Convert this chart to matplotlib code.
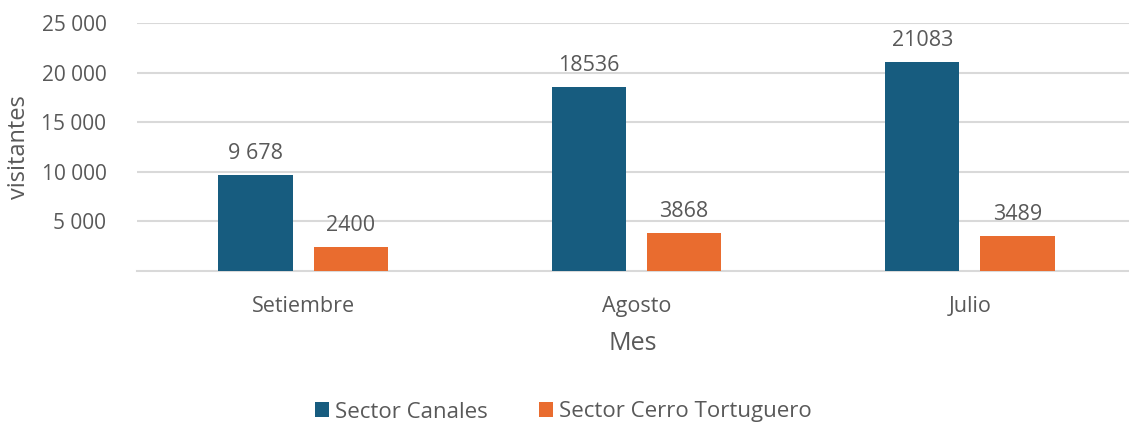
import matplotlib
matplotlib.use("Agg")
import matplotlib.pyplot as plt
import numpy as np
from matplotlib.ticker import FixedLocator

plt.rcParams['font.family'] = ['Open Sans', 'DejaVu Sans']

months = ["Setiembre", "Agosto", "Julio"]
canales = [9678, 18536, 21083]
cerro = [2400, 3868, 3489]
canales_labels = ["9 678", "18536", "21083"]
cerro_labels = ["2400", "3868", "3489"]
yticks = [5000, 10000, 15000, 20000, 25000]
ytick_labels = ["5 000", "10 000", "15 000", "20 000", "25 000"]

blue = "#175C7F"
orange = "#E96C2F"
txt = "#595959"

fig = plt.figure(figsize=(11.29, 4.25), dpi=100)
ax = fig.add_axes([137/1129, 1-271/425, 1-137/1129, (271-23)/425])

x = np.arange(len(months))
w = 0.222
off = 0.1426
b1 = ax.bar(x - off, canales, w, color=blue, label="Sector Canales", zorder=3)
b2 = ax.bar(x + off, cerro, w, color=orange, label="Sector Cerro Tortuguero", zorder=3)

for rect, lab in zip(b1, canales_labels):
    ax.annotate(lab, (rect.get_x() + rect.get_width()/2, rect.get_height()),
                xytext=(0, 8), textcoords="offset points", ha="center", va="bottom",
                fontsize=15.5, color=txt)
for rect, lab in zip(b2, cerro_labels):
    ax.annotate(lab, (rect.get_x() + rect.get_width()/2, rect.get_height()),
                xytext=(0, 8), textcoords="offset points", ha="center", va="bottom",
                fontsize=15.5, color=txt)

ax.set_xlim(-0.498, 2.477)
ax.set_ylim(0, 25000)
ax.yaxis.set_major_locator(FixedLocator(yticks))
ax.set_yticklabels(ytick_labels)
ax.set_xticks(x)
ax.set_xticklabels(months)
ax.tick_params(axis='both', length=0, labelcolor=txt)
ax.tick_params(axis='x', pad=18, labelsize=15.5)
ax.tick_params(axis='y', pad=22, labelsize=15)
ax.grid(axis='y', color="#D9D9D9", linewidth=1.5, zorder=0)
for s in ["top", "right", "left"]:
    ax.spines[s].set_visible(False)
ax.spines["bottom"].set_color("#D9D9D9")
ax.spines["bottom"].set_linewidth(1.5)

ax.set_xlabel("Mes", fontsize=18, color=txt, labelpad=10)
ax.set_ylabel("visitantes", fontsize=17, color=txt)
ax.yaxis.set_label_coords(-0.107, 0.5)

leg = fig.legend(handles=[b1, b2], loc="center", bbox_to_anchor=(563/1129, 1-412/425),
                 ncol=2, frameon=False, fontsize=16, handlelength=0.65, handleheight=0.65,
                 handletextpad=0.25, columnspacing=2.3, labelcolor=txt)

fig.savefig("out.png", dpi=100, facecolor="white")
